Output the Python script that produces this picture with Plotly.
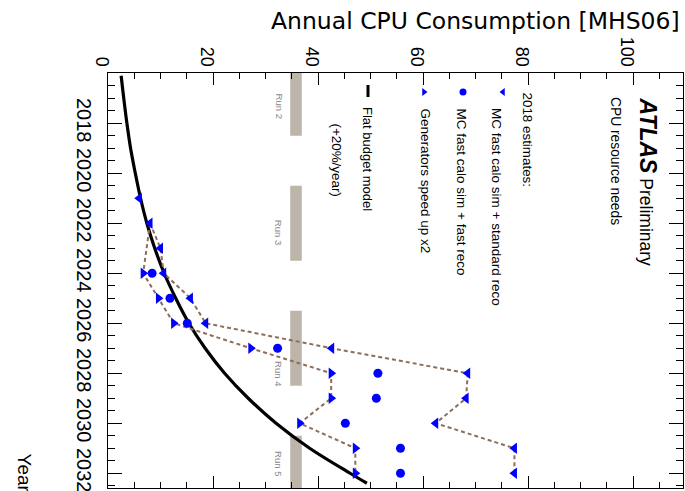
import plotly.graph_objects as go

# ---------------- data ----------------
std_years = [2021, 2022, 2023, 2024, 2025, 2026, 2027, 2028, 2029, 2030, 2031, 2032]
std_reco = [5.95, 8.0, 10.0, 10.6, 15.7, 18.6, 42.6, 68.5, 68.2, 62.4, 77.4, 77.4]

fast_years = [2024, 2025, 2026, 2027, 2028, 2029, 2030, 2031, 2032]
fast_reco = [8.4, 11.8, 15.1, 32.3, 51.4, 51.1, 45.2, 55.7, 55.7]

gen_years = [2024, 2025, 2026, 2027, 2028, 2029, 2030, 2031, 2032]
gen_x2 = [6.7, 9.6, 12.5, 27.2, 42.5, 42.5, 36.5, 47.1, 47.1]

flat_years = [2016.1, 2017, 2018, 2019, 2020, 2021, 2022, 2023, 2024, 2025, 2026,
              2027, 2028, 2029, 2030, 2031, 2032, 2032.4]
flat_budget = [2.5, 3.0, 3.6, 4.3, 5.2, 6.2, 7.4, 8.9, 10.7, 12.9, 15.4,
               18.5, 22.2, 26.7, 32.0, 38.4, 46.1, 49.3]

run_names = ["Run 2", "Run 3", "Run 4", "Run 5"]
run_start = [2015.5, 2020.5, 2025.5, 2030.5]
run_end = [2018.5, 2023.5, 2028.5, 2033.0]
run_label_year = [2017.3, 2022.35, 2028.0, 2031.6]

cpu_ticks = [0, 20, 40, 60, 80, 100]
year_ticks = [2018, 2020, 2022, 2024, 2026, 2028, 2030, 2032]

# ---------------- layout helpers ----------------
W, H = 685, 491
L, R, T, B = 108, 2, 73, 3
PW, PH = W - L - R, H - T - B


def fx(px):
    return (px - L) / PW


def fy(py):
    return (H - B - py) / PH


FONT = "Liberation Sans, Arial, sans-serif"
BLUE = "#0000ff"
BROWN = "#8c6e5a"

fig = go.Figure()

# run bars
for name, s, e, ly in zip(run_names, run_start, run_end, run_label_year):
    fig.add_shape(type="rect", xref="x", yref="y", x0=34.7, x1=36.9, y0=s, y1=e,
                  fillcolor="#bdb4aa", line_width=0, layer="below")
    fig.add_annotation(x=32.6, y=ly, xref="x", yref="y", text=name, showarrow=False,
                       textangle=90, font=dict(family=FONT, size=9.5, color="#8a8a8a"))

# flat budget curve
fig.add_trace(go.Scatter(x=flat_budget, y=flat_years, mode="lines",
                         line=dict(color="black", width=3.2, shape="spline"),
                         showlegend=False, hoverinfo="skip"))

# connecting dashed lines (both estimates branch from the common 2022 point)
fig.add_trace(go.Scatter(x=std_reco[1:], y=std_years[1:], mode="lines",
                         line=dict(color=BROWN, width=2, dash="4px,3px"),
                         showlegend=False))
fig.add_trace(go.Scatter(x=[std_reco[1]] + gen_x2, y=[std_years[1]] + gen_years,
                         mode="lines", line=dict(color=BROWN, width=2, dash="4px,3px"),
                         showlegend=False))

# markers
fig.add_trace(go.Scatter(x=gen_x2, y=gen_years, mode="markers",
                         marker=dict(symbol="triangle-right", size=10, color=BLUE),
                         showlegend=False))
fig.add_trace(go.Scatter(x=std_reco, y=std_years, mode="markers",
                         marker=dict(symbol="triangle-left", size=10, color=BLUE),
                         showlegend=False))
fig.add_trace(go.Scatter(x=fast_reco, y=fast_years, mode="markers",
                         marker=dict(symbol="circle", size=9, color=BLUE),
                         showlegend=False))

# legend symbols (layout decoration, paper coordinates)
fig.add_trace(go.Scatter(x=[fx(503), fx(424)], y=[fy(92), fy(92)], xaxis="x2", yaxis="y2",
                         mode="markers", marker=dict(symbol=["triangle-left", "triangle-right"],
                                                     size=7, color=BLUE),
                         showlegend=False, hoverinfo="skip"))
fig.add_trace(go.Scatter(x=[fx(463)], y=[fy(92)], xaxis="x2", yaxis="y2",
                         mode="markers", marker=dict(symbol="circle", size=7, color=BLUE),
                         showlegend=False, hoverinfo="skip"))
fig.add_shape(type="line", xref="paper", yref="paper", x0=fx(368), x1=fx(368),
              y0=fy(85), y1=fy(97), line=dict(color="black", width=3))

texts = [
    ('<span style="font-size:23px"><b><i>ATLAS</i></b></span> Preliminary', 648, 95, 17.5),
    ("CPU resource needs", 616, 95, 13.8),
    ("2018 estimates:", 527, 90, 13.4),
    ("MC fast calo sim + standard reco", 497, 106, 13.5),
    ("MC fast calo sim + fast reco", 461, 106, 13.5),
    ("Generators speed up x2", 425, 106, 13.5),
    ("Flat budget model", 368, 105, 13),
    ("(+20%/year)", 336, 121, 13.4),
]
for t, px, py, sz in texts:
    fig.add_annotation(x=fx(px), y=fy(py), xref="paper", yref="paper", text=t,
                       showarrow=False, textangle=90, xanchor="center", yanchor="top",
                       font=dict(family=FONT, size=sz, color="black"))

# axis titles
fig.add_annotation(x=fx(682), y=fy(21), xref="paper", yref="paper",
                   text="Annual CPU Consumption [MHS06]", showarrow=False,
                   xanchor="right", yanchor="middle",
                   font=dict(family="DejaVu Sans, Arial, sans-serif", size=23.5, color="black"))
fig.add_annotation(x=fx(24), y=fy(451), xref="paper", yref="paper", text="Year",
                   showarrow=False, textangle=90, xanchor="center", yanchor="top",
                   font=dict(family=FONT, size=19, color="black"))

axis_common = dict(showgrid=False, zeroline=False, showline=True, linecolor="black",
                   linewidth=1, ticks="inside", tickcolor="black", mirror="allticks",
                   tickangle=90, automargin=False, ticklabeloverflow="allow")

fig.update_layout(
    width=W, height=H, margin=dict(l=L, r=R, t=T, b=B),
    paper_bgcolor="white", plot_bgcolor="white",
    xaxis=dict(range=[0, 109.5], side="top", tickvals=cpu_ticks, ticklen=12,
               minor=dict(dtick=5, ticklen=6, ticks="inside", tickcolor="black"),
               tickfont=dict(family=FONT, size=18, color="black"),
               ticklabelstandoff=-1, ticklabelshift=-6, **axis_common),
    yaxis=dict(range=[2032.59, 2015.99], tickvals=year_ticks, ticklen=14,
               minor=dict(dtick=0.5, ticklen=7, ticks="inside", tickcolor="black"),
               tickfont=dict(family=FONT, size=20, color="black"),
               ticklabelstandoff=6, **axis_common),
    xaxis2=dict(range=[0, 1], overlaying="x", visible=False),
    yaxis2=dict(range=[0, 1], overlaying="y", visible=False),
    showlegend=False,
)

fig.write_html("out.html", config={"displayModeBar": False},
               post_script="document.body.style.margin='0px';")
